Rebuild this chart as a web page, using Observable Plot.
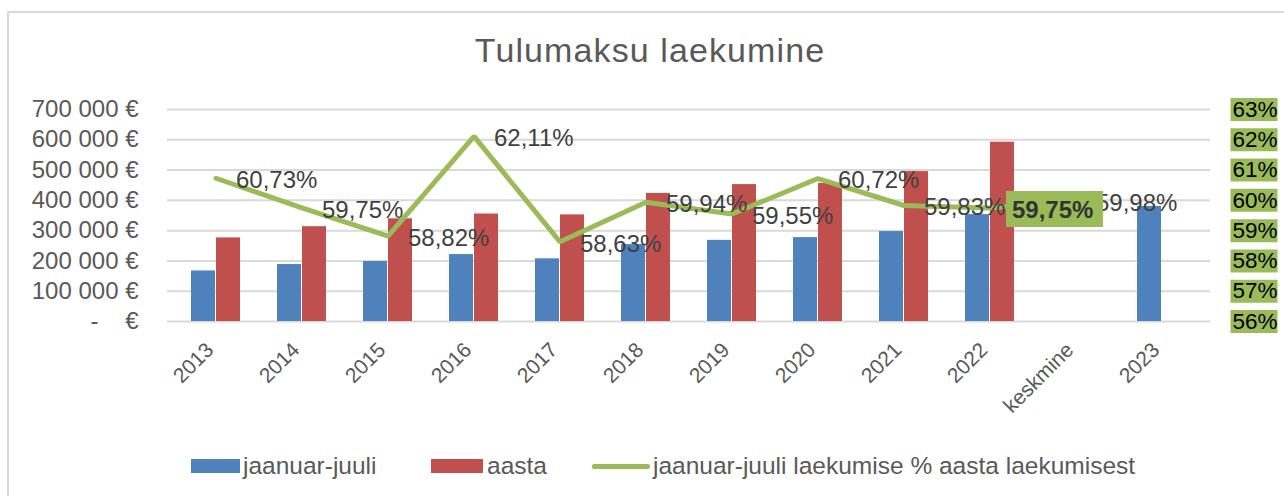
<!DOCTYPE html>
<html>
<head>
<meta charset="utf-8">
<script src="https://cdn.jsdelivr.net/npm/d3@7"></script>
<script src="https://cdn.jsdelivr.net/npm/@observablehq/plot@0.6"></script>
<style>
  body { margin: 0; background: #fff; font-family: "Liberation Sans", Arial, sans-serif; }
  #wrap { position: relative; width: 1284px; height: 496px; overflow: hidden; background: #fff; }
  #border { position: absolute; left: 7px; top: 11px; width: 1400px; height: 600px;
            border-top: 2px solid #d9d9d9; border-left: 2px solid #d9d9d9; }
  #chart { position: absolute; left: 0; top: 0; }
  #title { position: absolute; left: 0; width: 1300px; top: 33px; text-align: center;
           font-size: 34px; letter-spacing: 1.1px; line-height: 1; color: #595959; }
  .leg { position: absolute; font-size: 24.5px; line-height: 1; color: #595959; white-space: nowrap; }
  .sw { position: absolute; }
</style>
</head>
<body>
<div id="wrap">
  <div id="border"></div>
  <div id="chart"></div>
  <div id="title">Tulumaksu laekumine</div>
  <div id="legend"></div>
</div>
<script>
// ---- data ----
const categories = ["2013", "2014", "2015", "2016", "2017", "2018", "2019", "2020", "2021", "2022", "keskmine", "2023"];
const janJuul = [167000, 188000, 198000, 221000, 207000, 254000, 268000, 277000, 297000, 353000, null, 380000];
const aasta   = [276000, 313000, 339000, 355000, 352000, 423000, 452000, 456000, 495000, 592000, null, null];
const percent = [60.73, 59.75, 58.82, 62.11, 58.63, 59.94, 59.55, 60.72, 59.83, 59.75, 59.98, null];
const highlightCategory = "2022";
const leftTicks = [0, 100000, 200000, 300000, 400000, 500000, 600000, 700000];
const rightTicks = [56, 57, 58, 59, 60, 61, 62, 63];
const seriesNames = ["jaanuar-juuli", "aasta", "jaanuar-juuli laekumise % aasta laekumisest"];
const colors = ["#4F81BD", "#C0504D", "#9BBB59"];

// ---- tables ----
const rows = categories.map((c, i) => ({cat: c, jan: janJuul[i], aasta: aasta[i], pct: percent[i]}));
const janRows = rows.filter(d => d.jan != null);
const aastaRows = rows.filter(d => d.aasta != null);
const pctRows = rows.filter(d => d.pct != null);
// secondary (right) axis: 56% .. 63% shares the left axis range 0 .. 700 000 €
const toY = p => (p - 56) * 100000;
const fromY = v => Math.round(v / 100000 + 56);
const fmtPct = p => p.toFixed(2).replace(".", ",") + "%";
const fmtMoney = d => d === 0 ? "-\u00a0\u00a0\u00a0\u00a0€" : d3.format(",")(d).replace(/,/g, "\u00a0") + "\u00a0€";

const boxSymbol = (x0, y0, w, h) => ({draw(ctx) { ctx.rect(x0, y0, w, h); }});

const plot = Plot.plot({
  width: 1284, height: 496,
  marginLeft: 167, marginRight: 74, marginTop: 109, marginBottom: 175,
  style: {fontFamily: "'Liberation Sans', Arial, sans-serif", fontSize: "22px", color: "#595959", background: "transparent", overflow: "visible"},
  x: {type: "band", domain: categories, paddingInner: 0.425, paddingOuter: 0.2125, axis: null, label: null},
  y: {domain: [0, 700000], axis: null, label: null},
  marks: [
    Plot.ruleY(leftTicks, {stroke: "#d9d9d9", strokeWidth: 2}),
    Plot.barY(janRows, {x: "cat", y: "jan", fill: colors[0], insetRight: 25}),
    Plot.barY(aastaRows, {x: "cat", y: "aasta", fill: colors[1], insetLeft: 25}),
    Plot.line(pctRows, {x: "cat", y: d => toY(d.pct), stroke: colors[2], strokeWidth: 5, strokeLinejoin: "miter"}),
    Plot.text(pctRows.filter(d => d.cat !== highlightCategory), {
      x: "cat", y: d => toY(d.pct), text: d => fmtPct(d.pct),
      textAnchor: "start", dx: 20, dy: 2, fontSize: 24, fill: "#404040"
    }),
    Plot.dot(pctRows.filter(d => d.cat === highlightCategory), {
      x: "cat", y: d => toY(d.pct), symbol: boxSymbol(16, -17, 97, 36), fill: colors[2], stroke: "none"
    }),
    Plot.text(pctRows.filter(d => d.cat === highlightCategory), {
      x: "cat", y: d => toY(d.pct), text: d => fmtPct(d.pct),
      textAnchor: "start", dx: 22, dy: 2, fontSize: 24, fontWeight: "bold", fill: "#333333"
    }),
    Plot.axisY(leftTicks, {anchor: "left", label: null, tickSize: 0, tickPadding: 29, tickFormat: fmtMoney, fontSize: 24, fill: "#595959"}),
    Plot.dot(rightTicks, {y: d => toY(d), frameAnchor: "right", symbol: boxSymbol(20, -11.5, 47, 23), fill: colors[2], stroke: "none"}),
    Plot.axisY(rightTicks.map(toY), {anchor: "right", label: null, tickSize: 0, tickPadding: 22, textAnchor: "start",
      tickFormat: v => fromY(v) + "%", fontSize: 22.5, fill: "#000"}),
    Plot.axisX(categories, {anchor: "bottom", label: null, tickSize: 0, tickPadding: 0, tickRotate: -45, textAnchor: "end",
      lineAnchor: "middle", dx: -6, dy: 25, fontSize: 21, fill: "#595959"})
  ]
});
document.getElementById("chart").appendChild(plot);

// ---- legend ----
const legend = document.getElementById("legend");
const legItems = [
  {name: seriesNames[0], color: colors[0], type: "rect", sx: 191, sw: 49, tx: 243},
  {name: seriesNames[1], color: colors[1], type: "rect", sx: 431, sw: 52, tx: 487},
  {name: seriesNames[2], color: colors[2], type: "line", sx: 592, sw: 58, tx: 653}
];
legItems.forEach(it => {
  const s = document.createElement("div");
  s.className = "sw";
  s.style.left = it.sx + "px";
  s.style.width = it.sw + "px";
  s.style.background = it.color;
  if (it.type === "rect") { s.style.top = "459px"; s.style.height = "14px"; }
  else { s.style.top = "464px"; s.style.height = "5px"; s.style.borderRadius = "2px"; }
  legend.appendChild(s);
  const t = document.createElement("div");
  t.className = "leg";
  t.style.left = it.tx + "px";
  t.style.top = "454px";
  t.textContent = it.name;
  legend.appendChild(t);
});
</script>
</body>
</html>
